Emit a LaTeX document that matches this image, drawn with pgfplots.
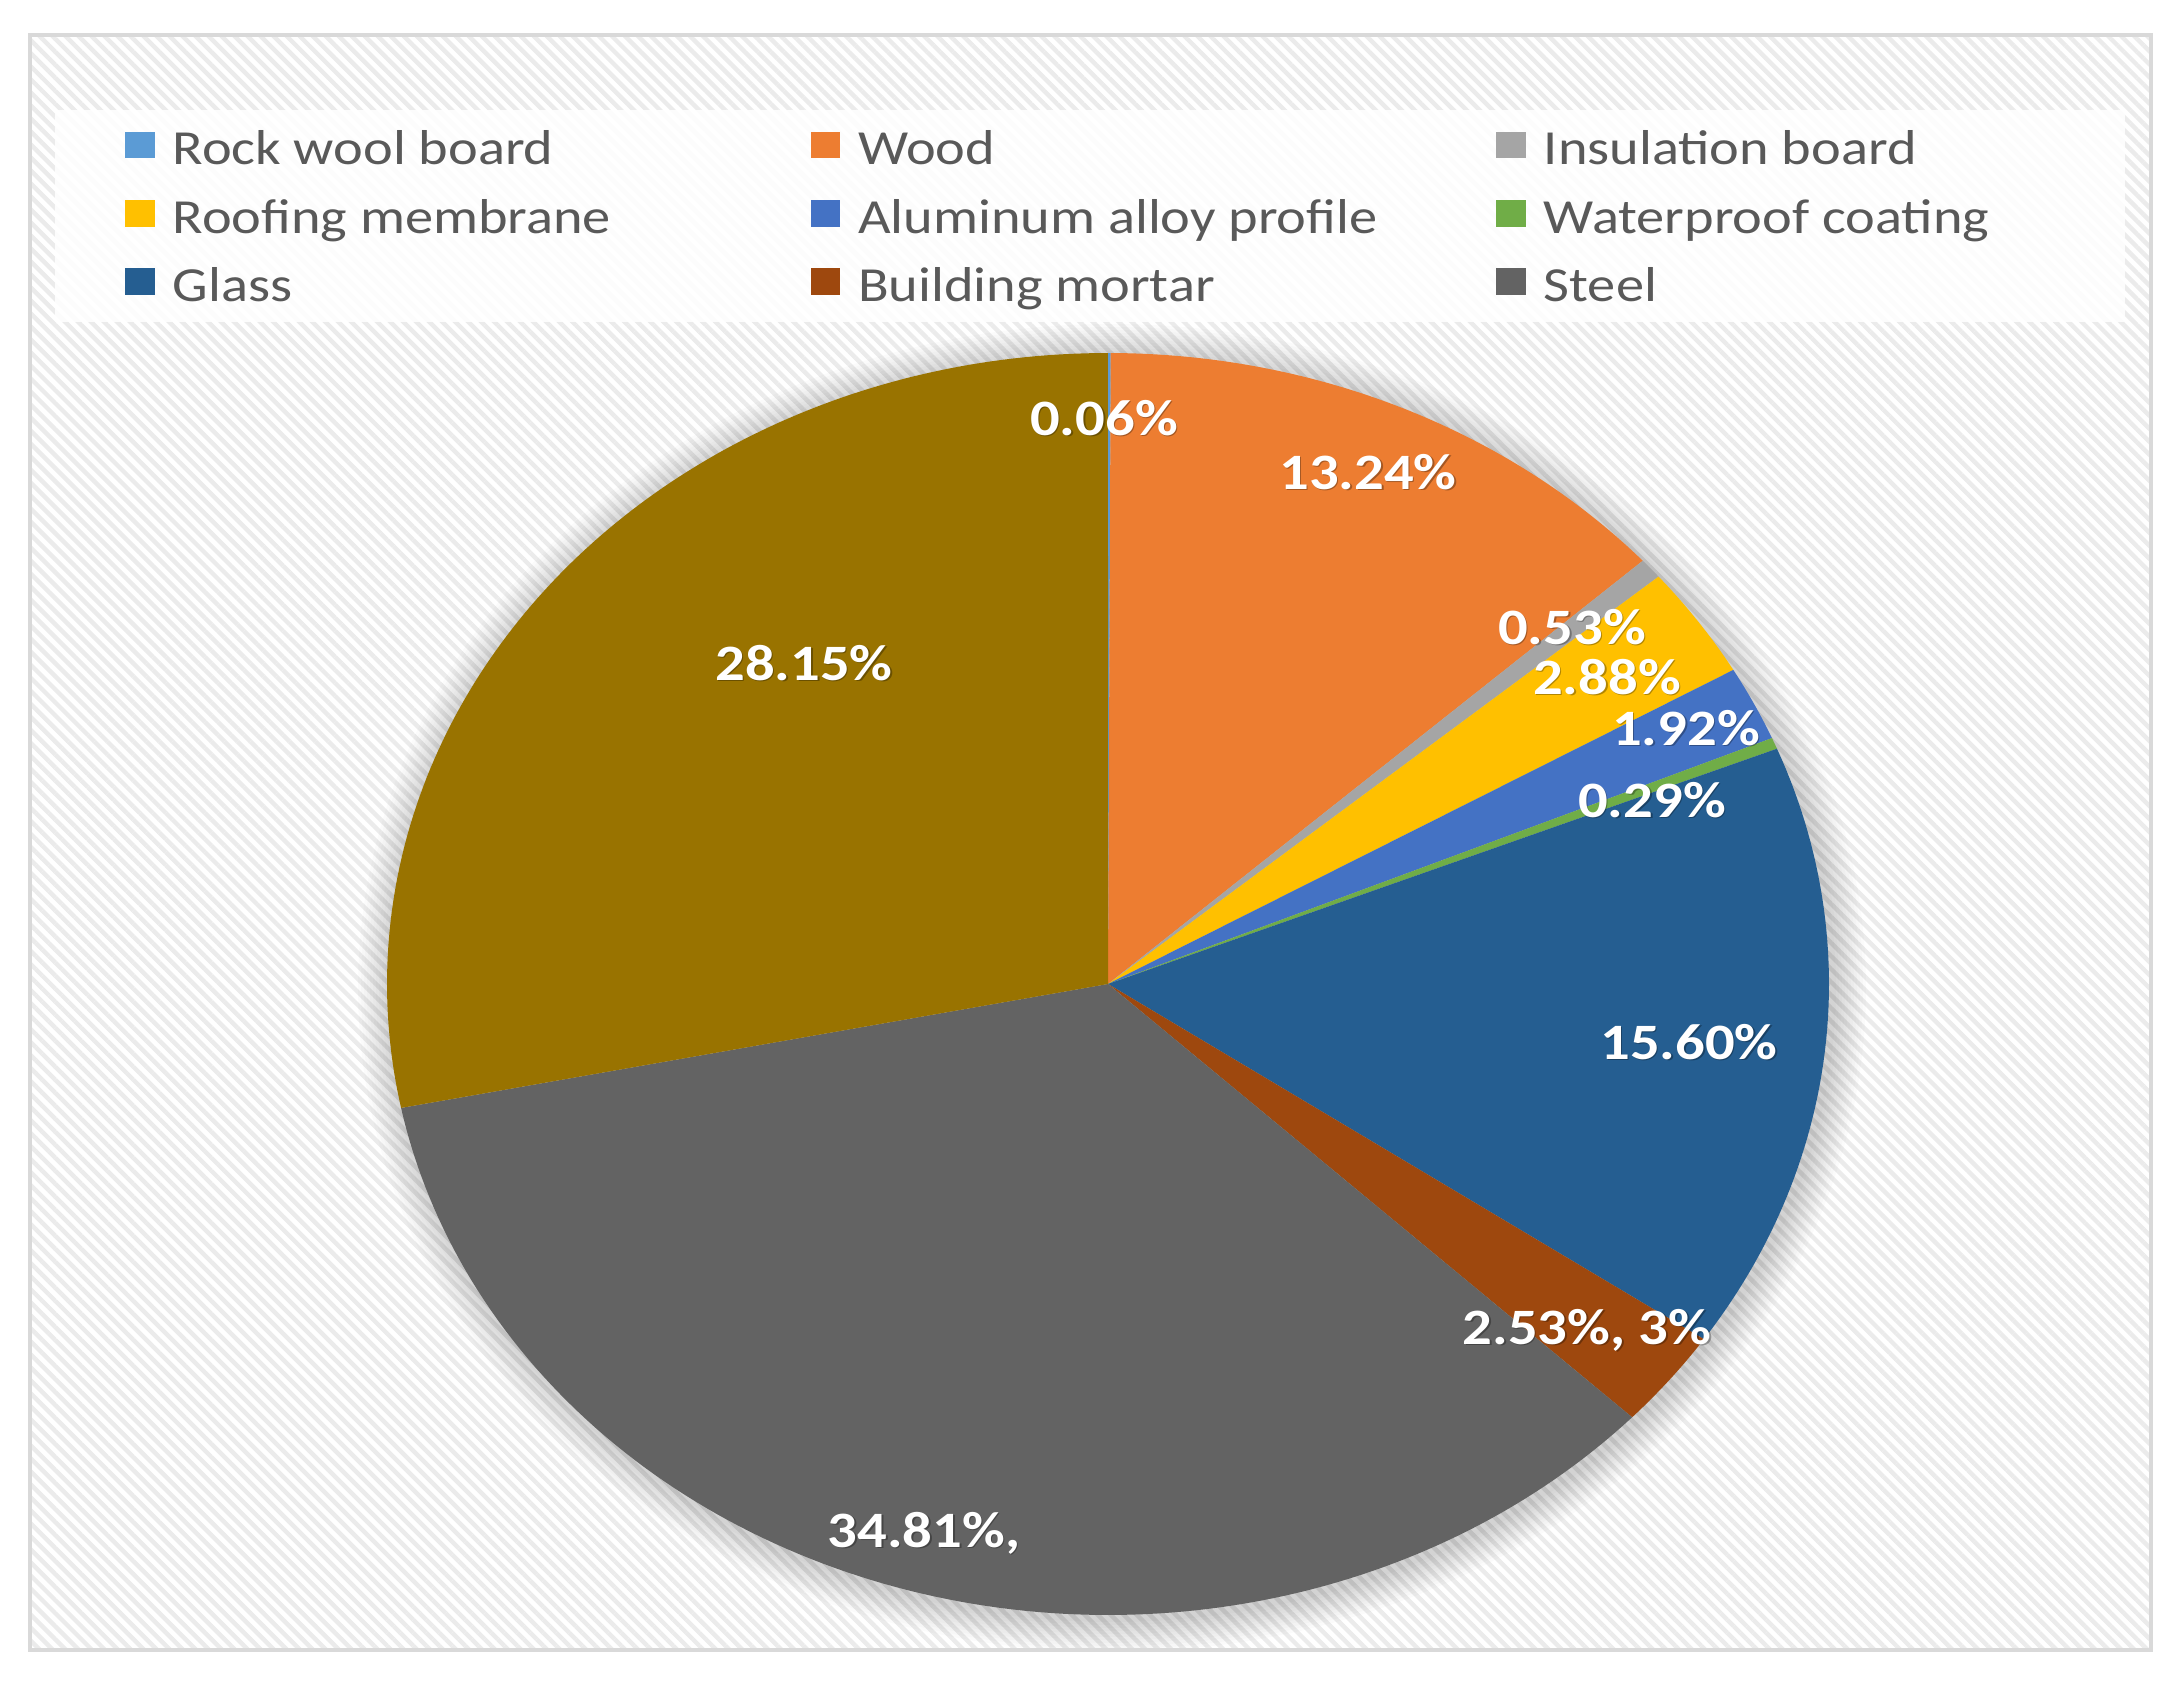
\documentclass[border=0pt]{standalone}
\usepackage{fontspec}
\setmainfont[FakeStretch=1.15]{Carlito}
\usepackage{pgfplots}
\pgfplotsset{compat=1.18}
\usetikzlibrary{patterns.meta}
\definecolor{cRock}{HTML}{5B9BD5}
\definecolor{cWood}{HTML}{ED7D31}
\definecolor{cIns}{HTML}{A5A5A5}
\definecolor{cRoof}{HTML}{FFC000}
\definecolor{cAlu}{HTML}{4472C4}
\definecolor{cWat}{HTML}{70AD47}
\definecolor{cGlass}{HTML}{255E91}
\definecolor{cMort}{HTML}{9E480E}
\definecolor{cSteel}{HTML}{636363}
\definecolor{cOther}{HTML}{997300}
\definecolor{legtxt}{HTML}{595959}
\definecolor{frameC}{HTML}{D9D9D9}
\newcommand\cum{0}
\newcommand\legtext[1]{\makebox[159.5pt][l]{\rule[-4.675pt]{0pt}{17.25pt}#1}}
% value, colour, legend entry
\newcommand\slice[3]{%
  \pgfmathsetmacro\aEnd{90-3.6*\cum/1.0001}%
  \pgfmathsetmacro\newcum{\cum+#1}%
  \pgfmathsetmacro\aStart{90-3.6*\newcum/1.0001}%
  \global\let\cum\newcum
  \edef\doit{\noexpand\addplot[fill=#2, draw=none, domain=\aStart:\aEnd, samples=121] ({1108+721*cos(x)},{984-631*sin(x)}) -- (axis cs:1108,984) -- cycle;}%
  \doit
  \ifx&#3&\else\addlegendentry{\legtext{#3}}\fi
}
\newcommand\lblfont{\fontsize{12.75}{15}\selectfont\bfseries}
\newcommand\lbl[3]{%
  \node[text=black, opacity=0.3, font=\lblfont, xshift=0.4pt, yshift=-0.4pt] at (axis cs:#1,#2) {#3};
  \node[text=white, font=\lblfont] at (axis cs:#1,#2) {#3};
}
\begin{document}
\begin{tikzpicture}
\begin{axis}[
  width=546pt, height=422pt, scale only axis,
  xmin=0, xmax=2184, ymin=0, ymax=1688, y dir=reverse,
  hide axis, clip=false,
  legend columns=3,
  legend cell align=left,
  legend style={at={(axis cs:125,211)}, anchor=west, draw=none, fill=none,
    inner sep=0pt, outer sep=0pt, row sep=3pt, column sep=0pt,
    font=\fontsize{12.25}{14}\selectfont, text=legtxt,
    nodes={inner sep=0pt, outer sep=0pt}},
  legend image code/.code={\fill[#1] (0pt,-3.9pt) rectangle (7.4pt,2.7pt); \path (11.9pt,0pt);},
]
% background
\fill[white] (axis cs:0,0) rectangle (axis cs:2184,1688);
\fill[pattern={Lines[angle=-45,distance=2.3pt,line width=1.1pt]}, pattern color=black!8] (axis cs:30,35) rectangle (axis cs:2151,1650);
\fill[white, opacity=0.85] (axis cs:55,110) rectangle (axis cs:2125,322);
% soft shadow
\pgfplotsinvokeforeach{3,6,9,12,15,18,21,24,27,30,33}{
  \addplot[forget plot, draw=none, fill=black, fill opacity=0.016, domain=0:360, samples=181]
    ({1112+(721+#1)*cos(x)},{988-(631+#1)*sin(x)}) -- cycle;
}
% slices (percent values, clockwise from 12 o'clock)
\slice{0.06}{cRock}{Rock wool board}
\slice{13.24}{cWood}{Wood}
\slice{0.53}{cIns}{Insulation board}
\slice{2.88}{cRoof}{Roofing membrane}
\slice{1.92}{cAlu}{Aluminum alloy profile}
\slice{0.29}{cWat}{Waterproof coating}
\slice{15.60}{cGlass}{Glass}
\slice{2.53}{cMort}{Building mortar}
\slice{34.81}{cSteel}{Steel}
\slice{28.15}{cOther}{}
% data labels
\lbl{1104}{418}{0.06\%}
\lbl{1368}{472}{13.24\%}
\lbl{804}{663}{28.15\%}
\lbl{1572}{627}{0.53\%}
\lbl{1607}{677}{2.88\%}
\lbl{1686}{728}{1.92\%}
\lbl{1652}{800}{0.29\%}
\lbl{1689}{1042}{15.60\%}
\lbl{1587}{1330}{2.53\%, 3\%}
\lbl{924}{1533}{34.81\%,}
% frame
\draw[frameC, line width=1pt] (axis cs:30,35) rectangle (axis cs:2151,1650);
\end{axis}
\end{tikzpicture}
\end{document}
